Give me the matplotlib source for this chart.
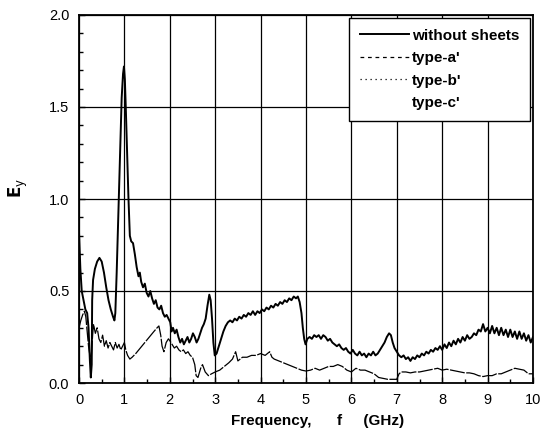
import matplotlib
matplotlib.use("Agg")
import matplotlib.pyplot as plt
from matplotlib.lines import Line2D
from matplotlib.ticker import MultipleLocator, FormatStrFormatter

plt.rcParams['font.family'] = ['Liberation Sans', 'DejaVu Sans']

# --- data ---
# without sheets
freq_ws = [0.00, 0.03, 0.06, 0.10, 0.14, 0.18, 0.21, 0.24, 0.26, 0.28, 0.29, 0.31, 0.35, 0.40,
           0.45, 0.50, 0.55, 0.60, 0.65, 0.70, 0.75, 0.78, 0.80, 0.83, 0.87, 0.91, 0.94, 0.97,
           0.99, 1.01, 1.03, 1.06, 1.09, 1.12, 1.15, 1.19, 1.23, 1.27, 1.31, 1.34, 1.37, 1.41,
           1.45, 1.49, 1.53, 1.57, 1.61, 1.65, 1.69, 1.73, 1.77, 1.81, 1.85, 1.89, 1.93, 1.97,
           2.01, 2.04, 2.07, 2.11, 2.15, 2.19, 2.23, 2.27, 2.31, 2.35, 2.39, 2.43, 2.47, 2.51,
           2.55, 2.59, 2.63, 2.67, 2.71, 2.75, 2.79, 2.83, 2.87, 2.90, 2.93, 2.96, 2.99, 3.03,
           3.08, 3.13, 3.18, 3.23, 3.28, 3.33, 3.38, 3.43, 3.48, 3.53, 3.58, 3.63, 3.68, 3.73,
           3.78, 3.83, 3.88, 3.93, 3.98, 4.03, 4.08, 4.13, 4.18, 4.23, 4.28, 4.33, 4.38, 4.43,
           4.48, 4.53, 4.58, 4.63, 4.68, 4.73, 4.78, 4.82, 4.86, 4.90, 4.93, 4.96, 4.99, 5.03,
           5.08, 5.13, 5.18, 5.23, 5.28, 5.33, 5.38, 5.43, 5.48, 5.53, 5.58, 5.63, 5.68, 5.73,
           5.78, 5.83, 5.88, 5.93, 5.98, 6.03, 6.08, 6.13, 6.18, 6.23, 6.28, 6.33, 6.38, 6.43,
           6.48, 6.53, 6.58, 6.63, 6.68, 6.73, 6.78, 6.83, 6.87, 6.91, 6.95, 7.00, 7.05, 7.10,
           7.15, 7.20, 7.25, 7.30, 7.35, 7.40, 7.45, 7.50, 7.55, 7.60, 7.65, 7.70, 7.75, 7.80,
           7.85, 7.90, 7.95, 8.00, 8.05, 8.10, 8.15, 8.20, 8.25, 8.30, 8.35, 8.40, 8.45, 8.50,
           8.55, 8.60, 8.65, 8.70, 8.75, 8.80, 8.85, 8.90, 8.95, 9.00, 9.05, 9.10, 9.15, 9.20,
           9.25, 9.30, 9.35, 9.40, 9.45, 9.50, 9.55, 9.60, 9.65, 9.70, 9.75, 9.80, 9.85, 9.90,
           9.95, 10.0]
ey_ws = [0.82, 0.62, 0.50, 0.45, 0.40, 0.38, 0.30, 0.12, 0.03, 0.10, 0.45, 0.56, 0.62, 0.66,
         0.68, 0.66, 0.60, 0.52, 0.45, 0.40, 0.36, 0.34, 0.38, 0.60, 0.95, 1.30, 1.55, 1.68,
         1.72, 1.65, 1.50, 1.25, 1.00, 0.80, 0.77, 0.76, 0.70, 0.63, 0.58, 0.60, 0.55, 0.52,
         0.54, 0.49, 0.47, 0.50, 0.46, 0.43, 0.45, 0.41, 0.40, 0.42, 0.38, 0.36, 0.37, 0.35,
         0.33, 0.28, 0.30, 0.27, 0.29, 0.25, 0.22, 0.24, 0.21, 0.23, 0.25, 0.22, 0.24, 0.27,
         0.25, 0.22, 0.24, 0.27, 0.30, 0.32, 0.35, 0.42, 0.48, 0.45, 0.35, 0.22, 0.15, 0.16,
         0.20, 0.24, 0.28, 0.31, 0.33, 0.34, 0.33, 0.35, 0.34, 0.36, 0.35, 0.37, 0.36, 0.38,
         0.37, 0.39, 0.37, 0.39, 0.38, 0.40, 0.39, 0.41, 0.40, 0.42, 0.41, 0.43, 0.42, 0.44,
         0.43, 0.45, 0.44, 0.46, 0.45, 0.47, 0.46, 0.47, 0.44, 0.38, 0.30, 0.24, 0.21, 0.24,
         0.25, 0.24, 0.26, 0.25, 0.26, 0.24, 0.26, 0.25, 0.23, 0.24, 0.22, 0.21, 0.20, 0.21,
         0.19, 0.18, 0.19, 0.17, 0.16, 0.18, 0.16, 0.15, 0.17, 0.15, 0.16, 0.14, 0.16, 0.15,
         0.17, 0.15, 0.16, 0.18, 0.20, 0.22, 0.25, 0.27, 0.26, 0.22, 0.19, 0.17, 0.15, 0.14,
         0.15, 0.13, 0.14, 0.12, 0.14, 0.13, 0.15, 0.14, 0.16, 0.15, 0.17, 0.16, 0.18, 0.17,
         0.19, 0.18, 0.20, 0.18, 0.21, 0.19, 0.22, 0.20, 0.23, 0.21, 0.24, 0.22, 0.25, 0.23,
         0.26, 0.24, 0.25, 0.27, 0.26, 0.29, 0.28, 0.32, 0.28, 0.30, 0.27, 0.31, 0.27, 0.30,
         0.26, 0.30, 0.26, 0.29, 0.25, 0.29, 0.25, 0.28, 0.24, 0.28, 0.24, 0.27, 0.23, 0.26,
         0.22, 0.25]

# type-a'
freq_a = [0.00, 0.04, 0.08, 0.12, 0.15, 0.18, 0.21, 0.24, 0.27, 0.30, 0.32, 0.36, 0.40, 0.44,
          0.48, 0.52, 0.56, 0.60, 0.64, 0.68, 0.72, 0.76, 0.80, 0.84, 0.88, 0.92, 0.96, 1.00,
          1.03, 1.07, 1.12, 1.17, 1.25, 1.35, 1.45, 1.55, 1.65, 1.72, 1.76, 1.80, 1.83, 1.87,
          1.92, 1.97, 2.00, 2.05, 2.10, 2.15, 2.20, 2.25, 2.30, 2.35, 2.40, 2.45, 2.50, 2.55,
          2.58, 2.62, 2.68, 2.72, 2.78, 2.85, 2.92, 3.00, 3.10, 3.20, 3.30, 3.38, 3.45, 3.50,
          3.55, 3.60, 3.70, 3.80, 3.90, 4.00, 4.10, 4.20, 4.25, 4.30, 4.40, 4.50, 4.60, 4.70,
          4.80, 4.90, 5.00, 5.10, 5.20, 5.30, 5.40, 5.50, 5.60, 5.70, 5.80, 5.90, 6.00, 6.10,
          6.20, 6.30, 6.40, 6.50, 6.60, 6.70, 6.80, 6.90, 7.00, 7.05, 7.10, 7.20, 7.30, 7.40,
          7.50, 7.60, 7.70, 7.80, 7.90, 8.00, 8.10, 8.20, 8.30, 8.40, 8.50, 8.60, 8.70, 8.80,
          8.90, 9.00, 9.10, 9.20, 9.30, 9.40, 9.50, 9.60, 9.70, 9.80, 9.90, 10.0]
ey_a = [0.30, 0.34, 0.37, 0.39, 0.36, 0.28, 0.20, 0.15, 0.14, 0.26, 0.32, 0.27, 0.30, 0.24,
        0.22, 0.26, 0.20, 0.23, 0.19, 0.22, 0.20, 0.18, 0.22, 0.19, 0.21, 0.18, 0.20, 0.22,
        0.18, 0.15, 0.13, 0.14, 0.16, 0.19, 0.22, 0.25, 0.28, 0.30, 0.31, 0.26, 0.20, 0.17,
        0.22, 0.24, 0.23, 0.21, 0.19, 0.20, 0.18, 0.17, 0.18, 0.16, 0.17, 0.15, 0.14, 0.10,
        0.04, 0.03, 0.08, 0.10, 0.06, 0.04, 0.05, 0.06, 0.07, 0.09, 0.11, 0.13, 0.17, 0.12,
        0.13, 0.14, 0.14, 0.15, 0.15, 0.16, 0.15, 0.17, 0.14, 0.13, 0.12, 0.11, 0.10, 0.09,
        0.08, 0.07, 0.065, 0.07, 0.08, 0.07, 0.08, 0.09, 0.09, 0.10, 0.09, 0.07, 0.06, 0.08,
        0.07, 0.07, 0.06, 0.05, 0.03, 0.025, 0.02, 0.02, 0.02, 0.05, 0.06, 0.06, 0.055, 0.06,
        0.06, 0.065, 0.07, 0.075, 0.08, 0.07, 0.075, 0.07, 0.065, 0.06, 0.055, 0.055, 0.05, 0.04,
        0.035, 0.04, 0.04, 0.05, 0.05, 0.06, 0.07, 0.08, 0.075, 0.07, 0.05, 0.05]

series_labels = ["without sheets", "type-a'", "type-b'", "type-c'"]

fig = plt.figure(figsize=(5.5, 4.36), dpi=100)
ax = fig.add_axes([79 / 550, 1 - 383 / 436, 454 / 550, 368 / 436])

ax.plot(freq_ws, ey_ws, color='black', lw=1.4)
ax.plot(freq_a, ey_a, color='black', lw=0.9, dashes=(12, 1.2))

ax.set_xlim(0, 10)
ax.set_ylim(0, 2.0)
ax.xaxis.set_major_locator(MultipleLocator(1))
ax.xaxis.set_minor_locator(MultipleLocator(0.5))
ax.yaxis.set_major_locator(MultipleLocator(0.5))
ax.yaxis.set_minor_locator(MultipleLocator(0.1))
ax.yaxis.set_major_formatter(FormatStrFormatter('%.1f'))
ax.tick_params(which='both', direction='in', labelsize=10.5, pad=7)
ax.tick_params(which='major', length=4, width=1)
ax.tick_params(which='minor', length=3, width=1)
ax.grid(True, which='major', color='black', lw=0.9)
for s in ax.spines.values():
    s.set_linewidth(1.3)

ax.set_xlabel('Frequency,      f     (GHz)', fontsize=11, fontweight='bold')
ax.xaxis.set_label_coords(0.526, -0.085)
ax.set_ylabel(r'$\mathbf{E}_{\rm y}$', fontsize=12)
ax.yaxis.set_label_coords(-0.108, 0.53)

# legend-only handles (type-b' and type-c' have no visible curve)
handles = [Line2D([], [], color='black', lw=1.4),
           Line2D([], [], color='black', lw=0.9, dashes=(3, 3)),
           Line2D([], [], color='black', lw=0.9, dashes=(1, 3)),
           Line2D([], [], color='none')]
leg = ax.legend(handles, series_labels, loc='upper right', bbox_to_anchor=(1, 1),
                borderaxespad=0.2, fancybox=False, framealpha=1, edgecolor='black',
                prop={'size': 11, 'weight': 'bold'}, handlelength=3.2,
                handletextpad=0.2, labelspacing=0.55, borderpad=0.7)
leg.get_frame().set_linewidth(1.0)

fig.savefig('out.png', dpi=100)
